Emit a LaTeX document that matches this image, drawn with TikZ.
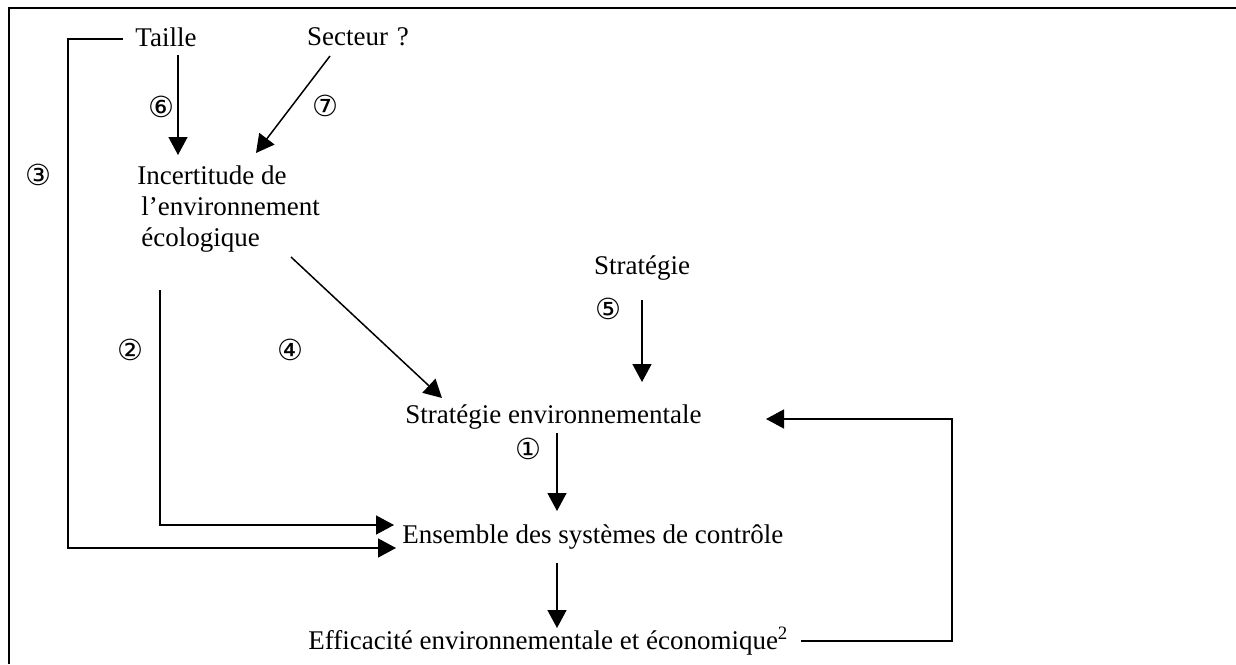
\documentclass[tikz,border=0pt]{standalone}
\usepackage{fontspec}
\setmainfont{Liberation Serif}
\newfontfamily\circfont{DejaVu Sans}
\usetikzlibrary{arrows.meta}
\begin{document}
\begin{tikzpicture}[x=0.5pt,y=-0.5pt,
  txt/.style={font=\fontsize{13.5}{15.5}\selectfont, inner sep=0pt},
  num/.style={font=\circfont\fontsize{14.5}{16}\selectfont, inner sep=0pt},
  conn/.style={line width=0.75pt},
  arr/.style={conn,-{Triangle[length=9pt,width=9.5pt]}},
  frameline/.style={line width=1.4pt}]
\useasboundingbox (0,0) rectangle (1236,664);
\draw[frameline] (9,664) -- (9,8) -- (1236,8);

% text nodes
\node[txt] (taille) at (166,37) {Taille};
\node[txt] (secteur) at (358,37) {Secteur\hspace{1pt} ?};
\node[txt, align=left, anchor=west] (incert) at (137,209) {Incertitude de\\\hspace{2pt}l’environnement\\\hspace{2pt}écologique};
\node[txt] (strat) at (642,268) {Stratégie};
\node[txt, anchor=west] (stratenv) at (405,417) {Stratégie environnementale};
\node[txt, anchor=west] (ensemble) at (402,537) {Ensemble des systèmes de contrôle};
\node[txt, anchor=west] (effic) at (308,641) {Efficacité environnementale et économique\textsuperscript{2}};

% number labels
\node[num] (n1) at (528,449) {①};
\node[num] (n2) at (130,350) {②};
\node[num] (n3) at (38,175) {③};
\node[num] (n4) at (290,350) {④};
\node[num] (n5) at (608,309) {⑤};
\node[num] (n6) at (161,107) {⑥};
\node[num] (n7) at (325,106) {⑦};

% connector ends and bends
\coordinate (a6s) at (178,55);  \coordinate (a6e) at (178,155);
\coordinate (a7s) at (330,56);  \coordinate (a7e) at (256,153);
\coordinate (a3s) at (123,39);  \coordinate (a3b) at (68,548); \coordinate (a3e) at (396,548);
\coordinate (a2s) at (160,290); \coordinate (a2b) at (160,525); \coordinate (a2e) at (394,525);
\coordinate (a4s) at (291,257); \coordinate (a4e) at (442,398);
\coordinate (a5s) at (642,300); \coordinate (a5e) at (642,382);
\coordinate (a1s) at (557,433); \coordinate (a1e) at (557,511);
\coordinate (a8s) at (557,563); \coordinate (a8e) at (557,628);
\coordinate (fbb) at (952,641); \coordinate (fbe) at (766,419);

\draw[arr] (a6s) -- (a6e);
\draw[arr] (a7s) -- (a7e);
\draw[arr] (a3s) -| (a3b) -- (a3e);
\draw[arr] (a2s) -- (a2b) -- (a2e);
\draw[arr] (a4s) -- (a4e);
\draw[arr] (a5s) -- (a5e);
\draw[arr] (a1s) -- (a1e);
\draw[arr] (a8s) -- (a8e);
\draw[arr] ([xshift=6pt]effic.east |- fbb) -- (fbb) |- (fbe);
\end{tikzpicture}
\end{document}
